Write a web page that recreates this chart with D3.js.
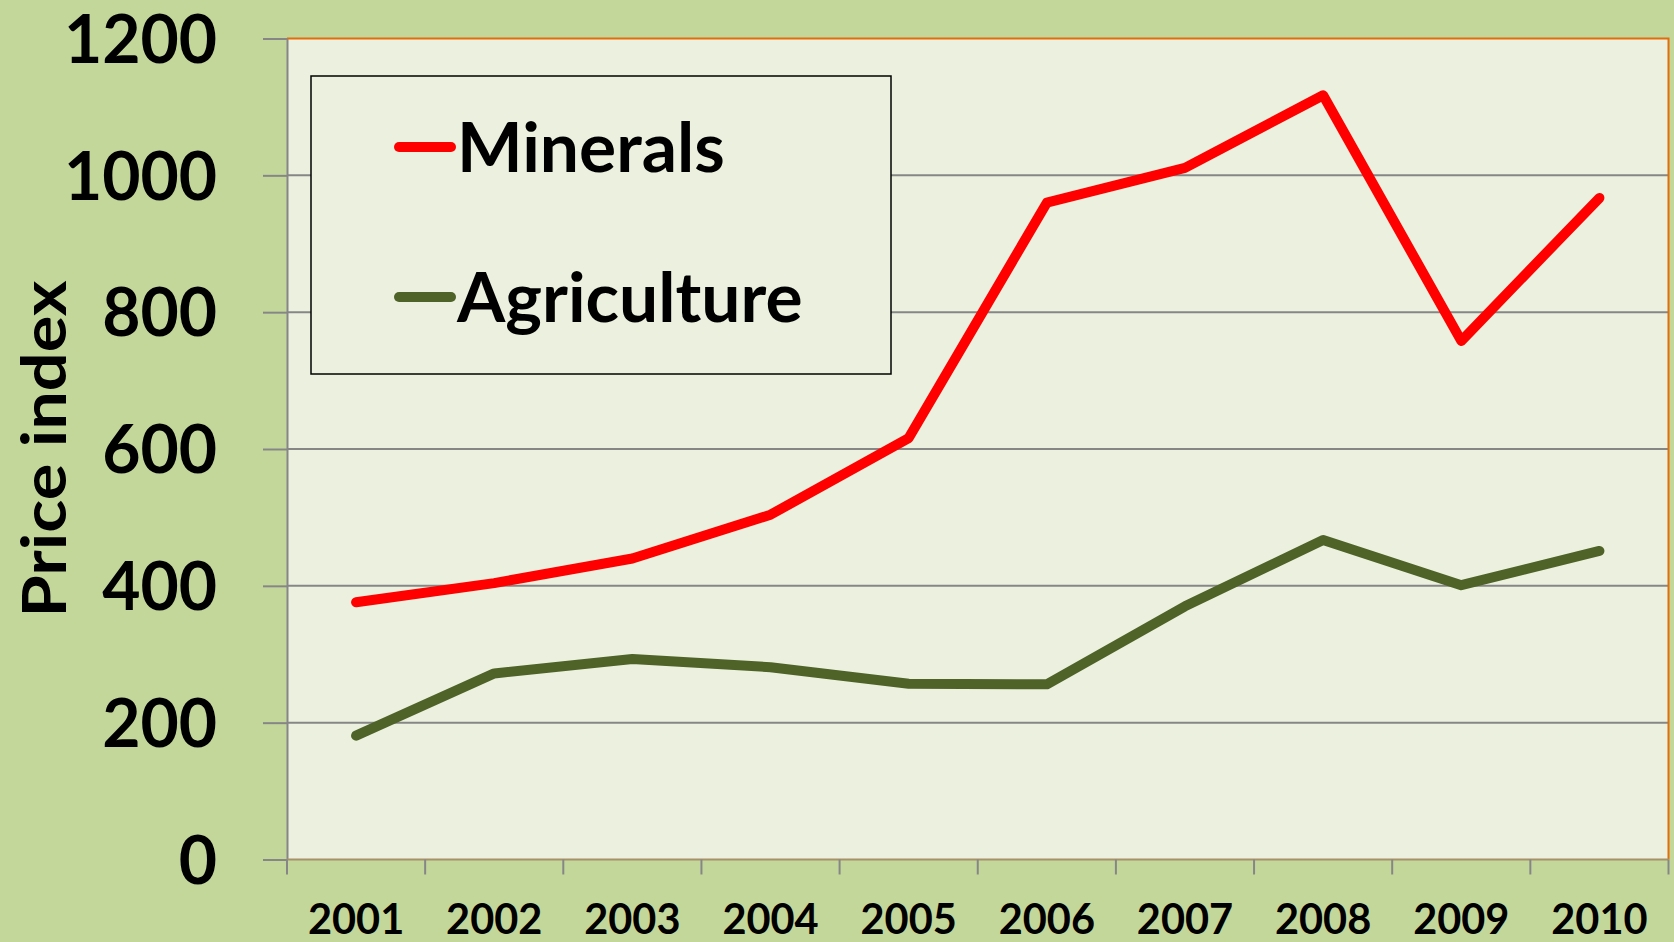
<!DOCTYPE html>
<html>
<head>
<meta charset="utf-8">
<script src="https://cdn.jsdelivr.net/npm/d3@7"></script>
<style>
  html, body { margin: 0; padding: 0; background: #c4d79b; }
  svg text { font-family: Lato, "Open Sans", sans-serif; font-weight: bold; fill: #000; }
</style>
</head>
<body>
<svg id="chart"></svg>
<script>
var width = 1674;
var height = 942;

// data
var years = ["2001", "2002", "2003", "2004", "2005", "2006", "2007", "2008", "2009", "2010"];
var minerals = [376, 404, 440, 504, 616, 960, 1011, 1117, 758, 967];
var agriculture = [181, 272, 293, 281, 257, 256, 370, 467, 401, 451];
var yTicks = [0, 200, 400, 600, 800, 1000, 1200];
var seriesNames = ["Minerals", "Agriculture"];
var seriesColors = ["#ff0000", "#4f6228"];

var margin = {top: 38.5, right: 5.5, bottom: 82.5, left: 287};
var plotW = width - margin.left - margin.right;
var plotH = height - margin.top - margin.bottom;

var svg = d3.select("#chart").attr("width", width).attr("height", height);

svg.append("rect").attr("width", width).attr("height", height).attr("fill", "#c4d79b");

var g = svg.append("g").attr("transform", "translate(" + margin.left + "," + margin.top + ")");

var x = d3.scaleBand().domain(years).range([0, plotW]);
var y = d3.scaleLinear().domain([0, 1200]).range([plotH, 0]);

g.append("rect")
  .attr("width", plotW)
  .attr("height", plotH)
  .attr("fill", "#ebf1de");

// gridlines
g.append("g")
  .selectAll("line")
  .data(yTicks.filter(function(d) { return d > 0 && d < 1200; }))
  .enter()
  .append("line")
  .attr("x1", 0)
  .attr("x2", plotW)
  .attr("y1", function(d) { return y(d); })
  .attr("y2", function(d) { return y(d); })
  .attr("stroke", "#868686")
  .attr("stroke-width", 2);

// plot border top / right (orange)
g.append("path")
  .attr("d", "M0,0H" + plotW + "V" + plotH)
  .attr("fill", "none")
  .attr("stroke", "#e46c0a")
  .attr("stroke-width", 2);

// y axis
var yAxis = g.append("g")
  .call(d3.axisLeft(y).tickValues(yTicks).tickFormat(d3.format("d"))
    .tickSize(24).tickPadding(46).tickSizeOuter(0));
yAxis.select(".domain").attr("stroke", "#868686").attr("stroke-width", 2);
yAxis.selectAll(".tick line").attr("stroke", "#868686").attr("stroke-width", 2);
yAxis.selectAll(".tick text")
  .attr("font-size", 66)
  .attr("font-family", "Lato, sans-serif")
  .attr("fill", "#000")
  .attr("dy", "0.36em");

// x axis (ticks on band boundaries)
var xAxis = g.append("g").attr("transform", "translate(0," + plotH + ")");
xAxis.append("line")
  .attr("x1", 0).attr("x2", plotW)
  .attr("stroke", "#a8906a").attr("stroke-width", 2);
xAxis.selectAll(".xt")
  .data(years.concat(["end"]))
  .enter()
  .append("line")
  .attr("class", "xt")
  .attr("x1", function(d, i) { return i < years.length ? x(d) : plotW; })
  .attr("x2", function(d, i) { return i < years.length ? x(d) : plotW; })
  .attr("y1", 0)
  .attr("y2", 15)
  .attr("stroke", "#868686")
  .attr("stroke-width", 2);
xAxis.selectAll(".xl")
  .data(years)
  .enter()
  .append("text")
  .attr("class", "xl")
  .attr("x", function(d) { return x(d) + x.bandwidth() / 2; })
  .attr("y", 74)
  .attr("text-anchor", "middle")
  .attr("font-size", 41.5)
  .text(function(d) { return d; });

// axis title
svg.append("text")
  .attr("transform", "translate(66,449) rotate(-90)")
  .attr("text-anchor", "middle")
  .attr("font-size", 62)
  .attr("textLength", 337)
  .attr("lengthAdjust", "spacingAndGlyphs")
  .text("Price index");

// lines
var line = d3.line()
  .x(function(d, i) { return x(years[i]) + x.bandwidth() / 2; })
  .y(function(d) { return y(d); });

[minerals, agriculture].forEach(function(s, k) {
  g.append("path")
    .datum(s)
    .attr("d", line)
    .attr("fill", "none")
    .attr("stroke", seriesColors[k])
    .attr("stroke-width", 10)
    .attr("stroke-linejoin", "round")
    .attr("stroke-linecap", "round");
});

// legend
var legend = svg.append("g").attr("transform", "translate(311,76)");
legend.append("rect")
  .attr("width", 580)
  .attr("height", 298)
  .attr("fill", "#ebf1de")
  .attr("stroke", "#000")
  .attr("stroke-width", 1.5);

var item = legend.selectAll(".item")
  .data(seriesNames)
  .enter()
  .append("g")
  .attr("transform", function(d, i) { return "translate(0," + (71 + i * 150) + ")"; });
item.append("line")
  .attr("x1", 88).attr("x2", 140)
  .attr("stroke", function(d, i) { return seriesColors[i]; })
  .attr("stroke-width", 10)
  .attr("stroke-linecap", "round");
item.append("text")
  .attr("x", 146)
  .attr("dy", "0.36em")
  .attr("font-size", 69.5)
  .text(function(d) { return d; });
</script>
</body>
</html>
